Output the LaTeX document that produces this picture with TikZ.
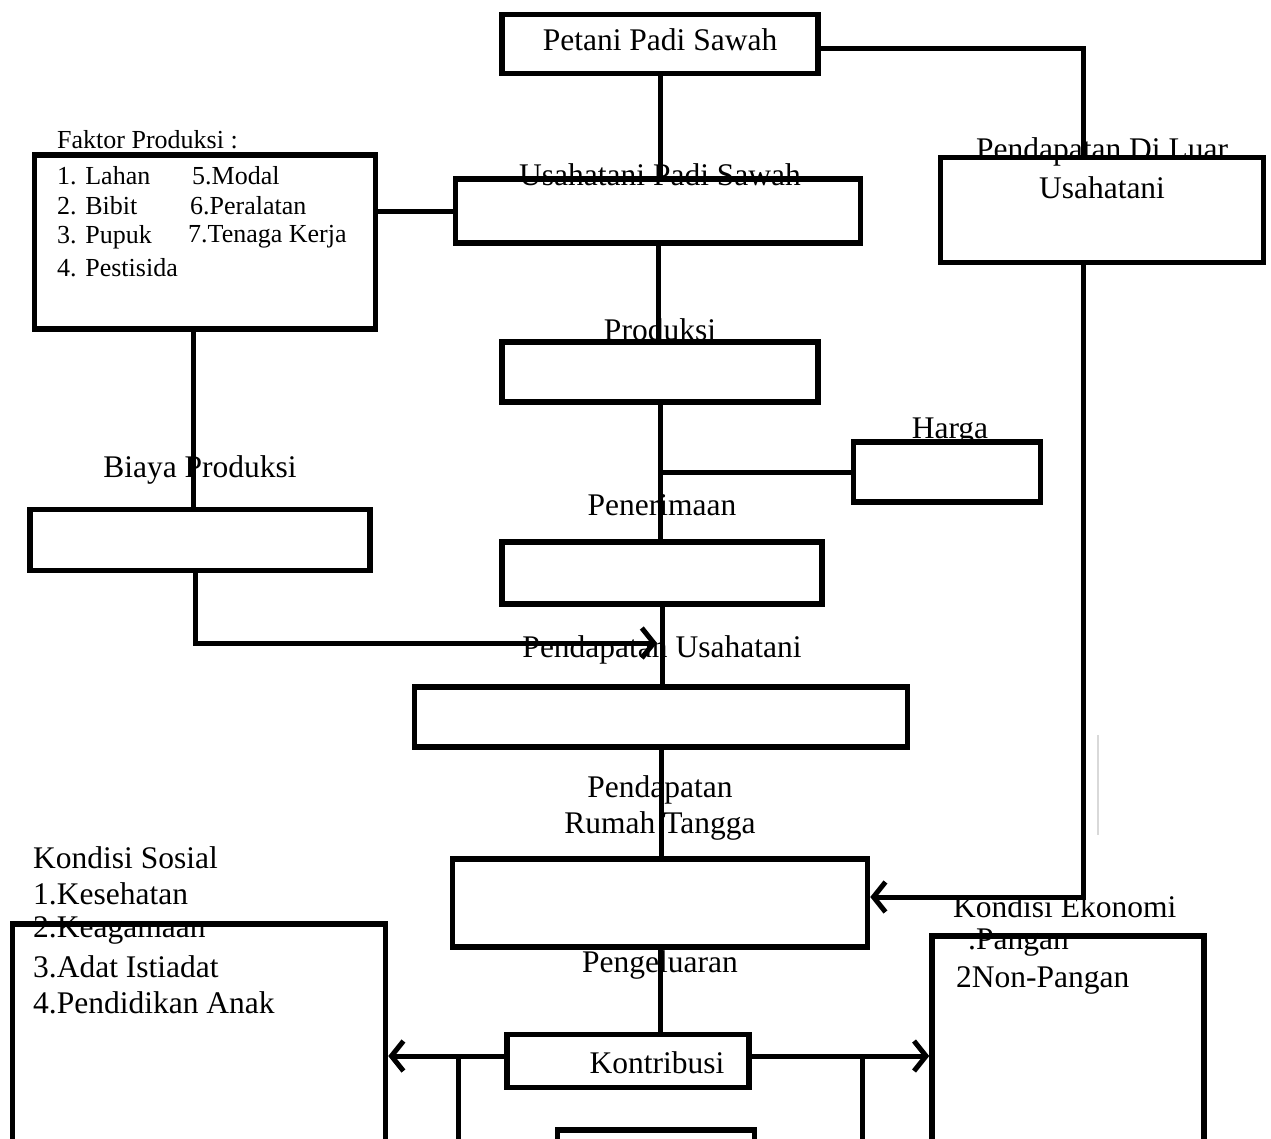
\documentclass[tikz,border=0pt]{standalone}
\usepackage{fontspec}
\setmainfont{Liberation Serif}
\usetikzlibrary{arrows.meta,calc}
\begin{document}
\begin{tikzpicture}[x=1pt,y=-1pt,
 box/.style={draw,line width=5.5pt,rectangle,inner sep=0pt},
 lbl/.style={inner sep=0pt,font=\fontsize{31.5}{36}\selectfont},
 sml/.style={inner sep=0pt,font=\fontsize{26}{30}\selectfont,anchor=west},
 big/.style={inner sep=0pt,font=\fontsize{31.5}{36}\selectfont,anchor=west},
 con/.style={line width=5pt},
 arr/.style={line width=5pt,-{Straight Barb[length=12pt,width=30pt,line width=5pt]}}
]
\useasboundingbox (0,0) rectangle (1271,1138);
\clip (0,0) rectangle (1271,1138);
\fill[white] (0,0) rectangle (1271,1138);

% boxes
\node[box,minimum width=316,minimum height=59] (petani) at (660,44) {};
\node[lbl] (tpetani) at (660,40) {Petani Padi Sawah};
\node[box,minimum width=405,minimum height=64] (usaha) at (658,211) {};
\node[lbl] (tusaha) at (660,175) {Usahatani Padi Sawah};
\node[box,minimum width=341,minimum height=174] (faktor) at (205,242) {};
\node[sml] (tfaktor) at (57,140) {Faktor Produksi :};
\node[sml] (f1) at (57,176) {1. Lahan};
\node[sml] (f2) at (57,206) {2. Bibit};
\node[sml] (f3) at (57,237) {3. Pupuk};
\node[sml] (f4) at (57,268) {4. Pestisida};
\node[sml] (f5) at (192,176) {5.Modal};
\node[sml] (f6) at (190,206) {6.Peralatan};
\node[sml] (f7) at (188,237) {7.Tenaga Kerja};
\node[box,minimum width=323,minimum height=105] (luar) at (1102,210) {};
\node[lbl] (tluar1) at (1102,152) {Pendapatan Di Luar};
\node[lbl] (tluar2) at (1102,188) {Usahatani};
\node[box,minimum width=316,minimum height=60] (produksi) at (660,372) {};
\node[lbl] (tproduksi) at (660,330) {Produksi};
\node[box,minimum width=187,minimum height=60] (harga) at (947,472) {};
\node[lbl] (tharga) at (950,432) {Harga};
\node[box,minimum width=320,minimum height=62] (penerimaan) at (662,573) {};
\node[lbl] (tpenerimaan) at (662,505) {Penerimaan};
\node[box,minimum width=340,minimum height=61] (biaya) at (200,540) {};
\node[lbl] (tbiaya) at (200,470) {Biaya Produksi};
\node[box,minimum width=493,minimum height=60] (pu) at (661,717) {};
\node[lbl] (tpu) at (662,650) {Pendapatan Usahatani};
\node[box,minimum width=415,minimum height=88] (rt) at (660,903) {};
\node[lbl] (trt1) at (660,790) {Pendapatan};
\node[lbl] (trt2) at (660,826) {Rumah Tangga};
\node[box,minimum width=242,minimum height=53] (kontribusi) at (628,1061) {};
\node[lbl] (tkontribusi) at (657,1063) {Kontribusi};
\node[lbl] (tpengeluaran) at (660,965) {Pengeluaran};
\node[box,minimum width=373,minimum height=236] (sosial) at (199,1042) {};
\node[big] (s0) at (33,858) {Kondisi Sosial};
\node[big] (s1) at (33,894) {1.Kesehatan};
\node[big] (s2) at (33,930) {2.Keagamaan};
\node[big] (s3) at (33,967) {3.Adat Istiadat};
\node[big] (s4) at (33,1003) {4.Pendidikan Anak};
\node[box,minimum width=272,minimum height=224] (ekonomi) at (1068,1048) {};
\node[big] (e0) at (953,907) {Kondisi Ekonomi};
\node[big] (e1) at (968,943) {.Pangan};
\node[big] (e2) at (956,980) {2Non-Pangan};
\node[box,minimum width=197,minimum height=40] (bawah) at (656,1150) {};

% connectors
\draw[con] (petani.south) -- (petani.south |- usaha.north);
\draw[con] ([yshift=-4]petani.east) -| ([xshift=-19]luar.north);
\draw[con] (faktor.east |- usaha.west) -- (usaha.west);
\draw[con] (usaha.south) -- (usaha.south |- produksi.north);
\draw[con] (produksi.south) -- (produksi.south |- penerimaan.north);
\draw[con] (harga.west) -- (harga.west -| produksi.south);
\draw[con] ([xshift=-12]faktor.south) -- ([xshift=-12]faktor.south |- biaya.north);
\coordinate (join) at (657,643);
\draw[arr] ([xshift=-5]biaya.south) |- (join);
\draw[con] (penerimaan.south) -- (penerimaan.south |- pu.north);
\draw[con] (pu.south) -- (pu.south |- rt.north);
\draw[arr] ([xshift=-19]luar.south) |- ([yshift=6]rt.east);
\draw[con] (rt.south) -- (rt.south |- kontribusi.north);
\draw[arr] ([yshift=5]kontribusi.west) -- ([yshift=5]kontribusi.west -| sosial.east);
\draw[arr] ([yshift=5]kontribusi.east) -- ([yshift=5]kontribusi.east -| ekonomi.west);
\coordinate (dl) at (458,1145);
\coordinate (dr) at (862,1145);
\draw[con] ([yshift=5]kontribusi.west -| dl) -- (dl);
\draw[con] ([yshift=3]kontribusi.east -| dr) -- (dr);
\coordinate (g1) at (1098,735);
\coordinate (g2) at (1098,835);
\draw[gray!30,line width=2pt] (g1) -- (g2);
\end{tikzpicture}
\end{document}
